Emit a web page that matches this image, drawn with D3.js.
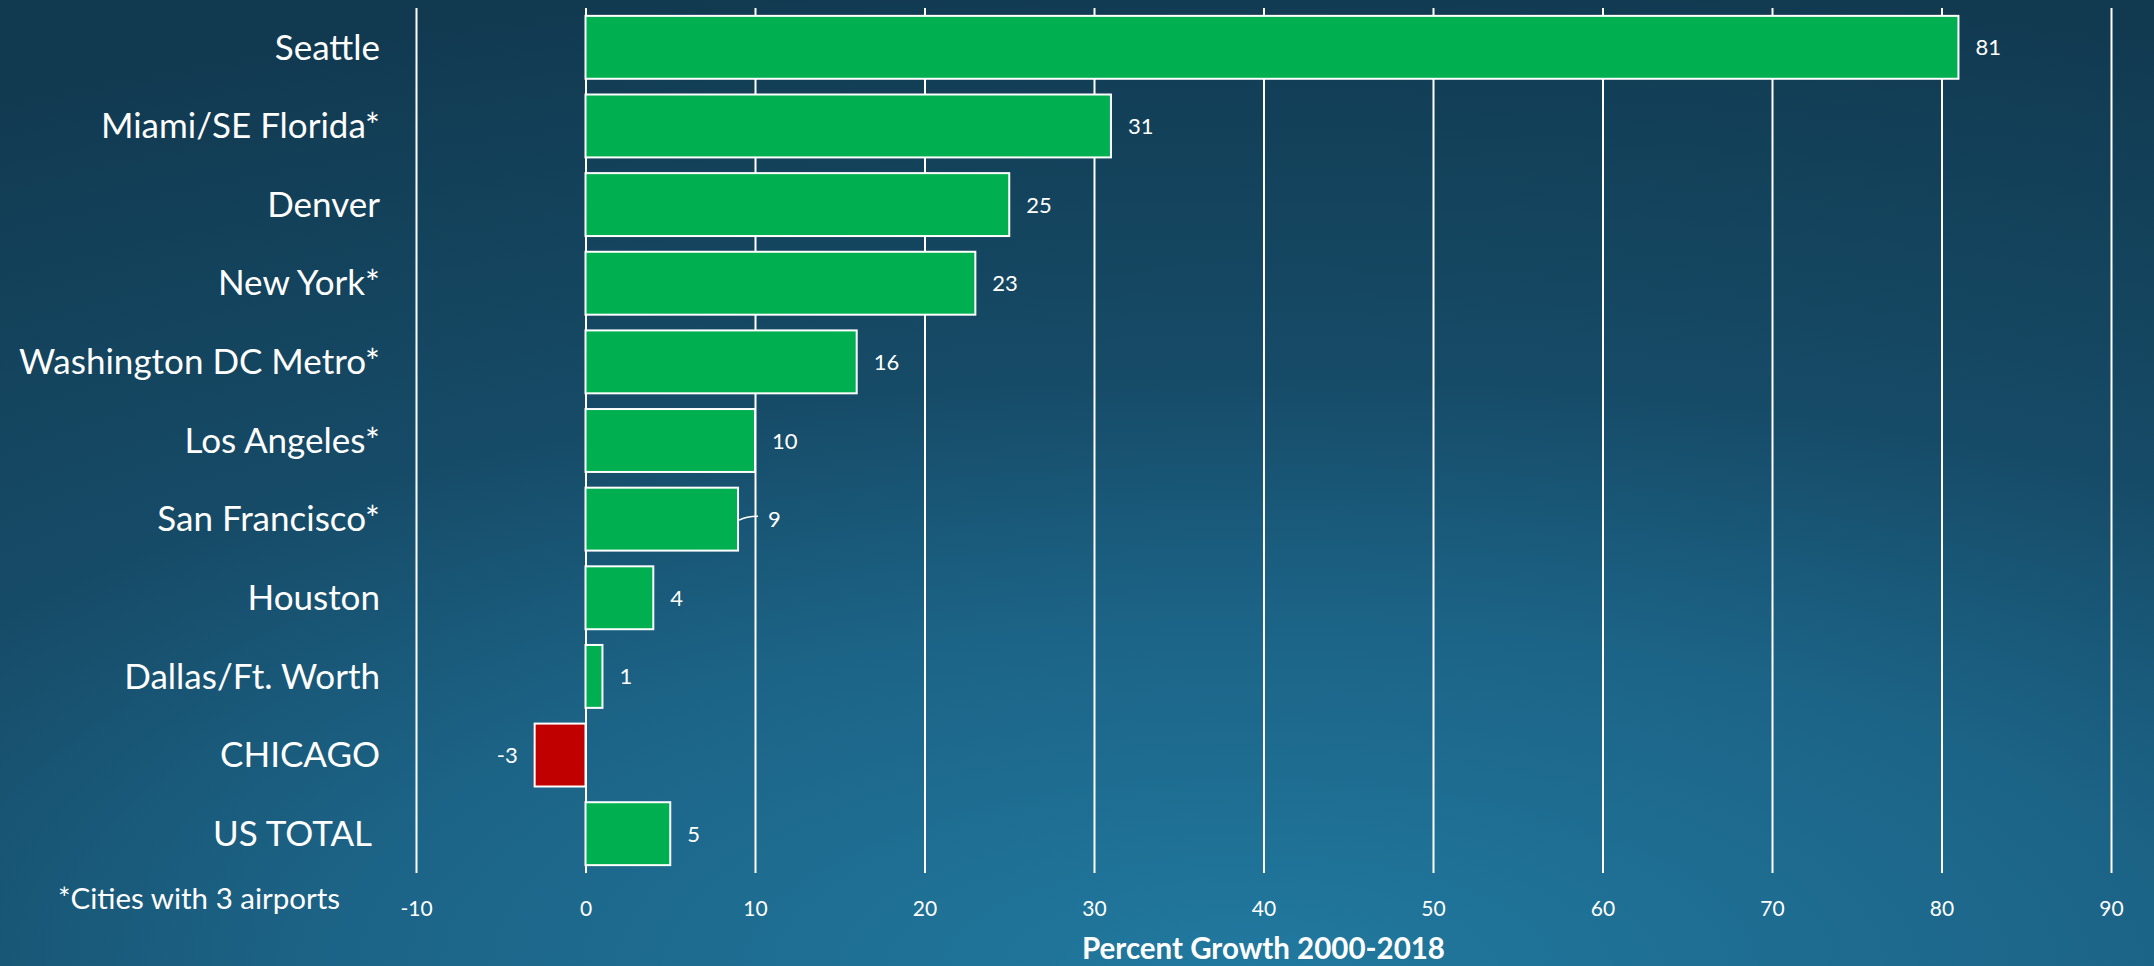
<!DOCTYPE html>
<html>
<head>
<meta charset="utf-8">
<script src="https://cdn.jsdelivr.net/npm/d3@7"></script>
<style>
  html, body { margin: 0; padding: 0; background: #123c54; }
  svg { display: block; }
  text { font-family: Lato, "Open Sans", sans-serif; fill: #ffffff; }
</style>
</head>
<body>
<div id="chart"></div>
<script>
// chart data
var cities = ["Seattle", "Miami/SE Florida*", "Denver", "New York*", "Washington DC Metro*",
  "Los Angeles*", "San Francisco*", "Houston", "Dallas/Ft. Worth", "CHICAGO", "US TOTAL "];
var growth = [81, 31, 25, 23, 16, 10, 9, 4, 1, -3, 5];
var tickValues = [-10, 0, 10, 20, 30, 40, 50, 60, 70, 80, 90];
var axisTitle = "Percent Growth 2000-2018";
var footnote = "*Cities with 3 airports";

var svgWidth = 2154;
var svgHeight = 966;

var data = cities.map(function(c, i) { return { city: c, value: growth[i] }; });

var svg = d3.select("#chart")
  .append("svg")
  .attr("width", svgWidth)
  .attr("height", svgHeight);

// background: radial glow coming up from the bottom
var defs = svg.append("defs");
var grad = defs.append("radialGradient")
  .attr("id", "bg")
  .attr("gradientUnits", "userSpaceOnUse")
  .attr("cx", 0).attr("cy", 0).attr("r", 1)
  .attr("gradientTransform", "translate(1250, 975) scale(2600, 1000)");
grad.append("stop").attr("offset", "0").attr("stop-color", "#21799f");
grad.append("stop").attr("offset", "0.35").attr("stop-color", "#1c6487");
grad.append("stop").attr("offset", "0.6").attr("stop-color", "#164b67");
grad.append("stop").attr("offset", "1").attr("stop-color", "#113a51");

svg.append("rect")
  .attr("width", svgWidth)
  .attr("height", svgHeight)
  .attr("fill", "url(#bg)");

// scales
var x = d3.scaleLinear()
  .domain([-10, 90])
  .range([416, 2111]);

var y = d3.scaleBand()
  .domain(cities)
  .range([8, 873])
  .paddingInner(0.2)
  .paddingOuter(0.1);

// vertical gridlines (the 0 line doubles as axis)
var grid = svg.append("g")
  .attr("transform", "translate(0, 873)")
  .call(d3.axisBottom(x).tickValues(tickValues).tickSize(-865).tickFormat(""));
grid.select(".domain").remove();
grid.selectAll("line").attr("stroke", "#ffffff").attr("stroke-width", 2);

// tick labels (plain hyphen for negatives, like the original)
var tickAxis = svg.append("g")
  .attr("transform", "translate(0, 873)")
  .call(d3.axisBottom(x).tickValues(tickValues).tickSize(0).tickPadding(28).tickFormat(d => String(d)));
tickAxis.select(".domain").remove();
tickAxis.selectAll("text")
  .attr("fill", "#ffffff")
  .style("font-size", "21px")
  .style("font-family", "Lato, sans-serif");

// bars
svg.append("g")
  .selectAll("rect")
  .data(data)
  .enter()
  .append("rect")
  .attr("x", d => x(Math.min(0, d.value)))
  .attr("y", d => y(d.city))
  .attr("width", d => Math.abs(x(d.value) - x(0)))
  .attr("height", y.bandwidth())
  .attr("fill", d => d.value < 0 ? "#c00000" : "#00b050")
  .attr("stroke", "#ffffff")
  .attr("stroke-width", 2);

// value labels; San Francisco's sits past the 10 gridline with a short leader
function labelShift(d) { return d.city === "San Francisco*" ? 30 : 17; }

svg.append("g")
  .selectAll("text")
  .data(data)
  .enter()
  .append("text")
  .attr("x", d => d.value < 0 ? x(d.value) - 17 : x(d.value) + labelShift(d))
  .attr("y", d => y(d.city) + y.bandwidth() / 2 + 8)
  .attr("text-anchor", d => d.value < 0 ? "end" : "start")
  .style("font-size", "22px")
  .text(d => String(d.value));

var sf = data.filter(d => d.city === "San Francisco*")[0];
var sfY = y(sf.city) + y.bandwidth() / 2;
svg.append("path")
  .attr("d", "M" + (x(sf.value) + 1) + "," + (sfY + 1) + " Q" + (x(sf.value) + 8) + "," + (sfY - 3) + " " + (x(sf.value) + 20) + "," + (sfY - 3))
  .attr("fill", "none")
  .attr("stroke", "#ffffff")
  .attr("stroke-width", 1.5);

// category labels
svg.append("g")
  .selectAll("text")
  .data(cities)
  .enter()
  .append("text")
  .attr("x", 380)
  .attr("y", d => y(d) + y.bandwidth() / 2)
  .attr("dy", "0.35em")
  .attr("text-anchor", "end")
  .style("font-size", "35px")
  .style("white-space", "pre")
  .text(d => d);

// footnote
svg.append("text")
  .attr("x", 58)
  .attr("y", 909)
  .style("font-size", "29.5px")
  .text(footnote);

// axis title
svg.append("text")
  .attr("x", (x(-10) + x(90)) / 2)
  .attr("y", 959)
  .attr("text-anchor", "middle")
  .style("font-size", "29.5px")
  .style("font-weight", "bold")
  .text(axisTitle);
</script>
</body>
</html>
